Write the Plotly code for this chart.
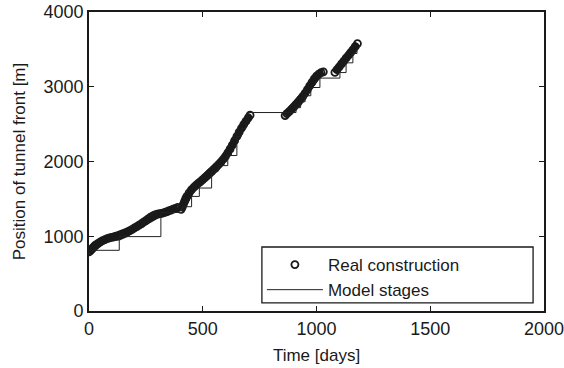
import plotly.graph_objects as go

# Real construction (days, position [m]); None separates the gaps in the record
real_days = [0, 5, 10, 15, 20, 25, 30, 40, 50, 60, 70, 80, 90, 100, 110, 120, 130, 140, 150, 160,
             170, 180, 190, 200, 210, 220, 230, 240, 250, 260, 270, 280, 290, 300, 310, 320, 330,
             340, 350, 360, 370, 380, 390, None,
             405, 410, 415, 420, 425, 430, 440, 450, 460, 470, 480, 490, 500, 510, 520, 530, 540,
             550, 560, 570, 580, 590, 600, 610, 620, 630, 640, 650, 660, 670, 680, 690, 700, 708, None,
             862, 870, 880, 890, 900, 910, 920, 930, 940, 950, 960, 970, 980, 990, 1000, 1010, 1020,
             1030, None,
             1081, 1090, 1100, 1110, 1120, 1130, 1140, 1150, 1160, 1170, 1180]
real_pos = [790, 805, 820, 838, 855, 870, 885, 905, 925, 942, 955, 967, 977, 985, 992, 997, 1003, 1015,
            1028, 1042, 1058, 1074, 1092, 1112, 1130, 1148, 1167, 1188, 1210, 1232, 1254, 1271, 1285,
            1295, 1301, 1307, 1316, 1326, 1338, 1350, 1362, 1373, 1385, None,
            1360, 1390, 1430, 1468, 1502, 1533, 1580, 1620, 1652, 1680, 1706, 1732, 1758, 1785, 1812,
            1840, 1868, 1897, 1928, 1960, 1993, 2030, 2070, 2115, 2165, 2220, 2278, 2335, 2392, 2445,
            2495, 2540, 2585, 2620, None,
            2615, 2640, 2668, 2698, 2728, 2760, 2795, 2832, 2872, 2915, 2962, 3012, 3060, 3104, 3142,
            3170, 3188, 3200, None,
            3192, 3228, 3266, 3305, 3344, 3382, 3418, 3456, 3495, 3536, 3578]

# Model stages: start day of each stage and its (constant) front position
stage_start = [0, 133, 316, 412, 451, 485, 539, 568, 610, 650, 670, 690, 699, 910, 930, 950,
               975, 1015, 1103, 1130, 1160, 1178]
stage_level = [812, 995, 1318, 1395, 1533, 1645, 1870, 1945, 2080, 2335, 2440, 2530, 2655, 2720,
               2800, 2880, 2990, 3116, 3190, 3320, 3445, 3510]

x_ticks = [0, 500, 1000, 1500, 2000]
y_ticks = [0, 1000, 2000, 3000, 4000]

FONT = "Liberation Sans, Arial, Helvetica, sans-serif"
INK = "#1a1a1a"

fig = go.Figure()

# solid core of the dense record (same data, no legend entry)
fig.add_trace(go.Scatter(x=real_days, y=real_pos, mode="lines", showlegend=False,
                         hoverinfo="skip", connectgaps=False,
                         line=dict(color=INK, width=7)))
fig.add_trace(go.Scatter(x=real_days, y=real_pos, mode="markers", name="Real construction",
                         marker=dict(symbol="circle-open", size=7, color=INK,
                                     line=dict(width=1.8, color=INK))))
fig.add_trace(go.Scatter(x=stage_start + [1180], y=stage_level + [stage_level[-1]],
                         mode="lines", name="Model stages", line_shape="hv",
                         line=dict(color="#222222", width=1)))

axis_common = dict(showgrid=False, zeroline=False, showline=True, mirror="ticks",
                   linecolor=INK, linewidth=1.8, ticks="inside", ticklen=5, tickwidth=1,
                   tickcolor=INK, ticklabeloverflow="allow",
                   tickfont=dict(family=FONT, size=18, color=INK))

fig.update_xaxes(range=[0, 2000], tickvals=x_ticks, **axis_common,
                 title=dict(text="Time [days]", font=dict(family=FONT, size=17, color=INK),
                            standoff=12))
fig.update_yaxes(range=[0, 4000], tickvals=y_ticks, **axis_common,
                 title=dict(text="Position of tunnel front [m]",
                            font=dict(family=FONT, size=17, color=INK), standoff=14))

fig.add_shape(type="rect", xref="paper", yref="paper", x0=0.380, x1=0.976, y0=0.027, y1=0.214,
              line=dict(color=INK, width=1.3), fillcolor="white", layer="below")

fig.update_layout(
    width=564, height=368,
    margin=dict(l=89, r=20, t=12, b=57, autoexpand=False),
    paper_bgcolor="white", plot_bgcolor="white",
    font=dict(family=FONT, color=INK),
    legend=dict(x=0.380, y=0.214, xanchor="left", yanchor="top", bgcolor="rgba(0,0,0,0)",
                borderwidth=0, font=dict(family=FONT, size=17, color=INK),
                itemwidth=56, tracegroupgap=0),
    showlegend=True,
)

fig.write_html("out.html", config={"displayModeBar": False},
               post_script="document.body.style.margin='0';")
